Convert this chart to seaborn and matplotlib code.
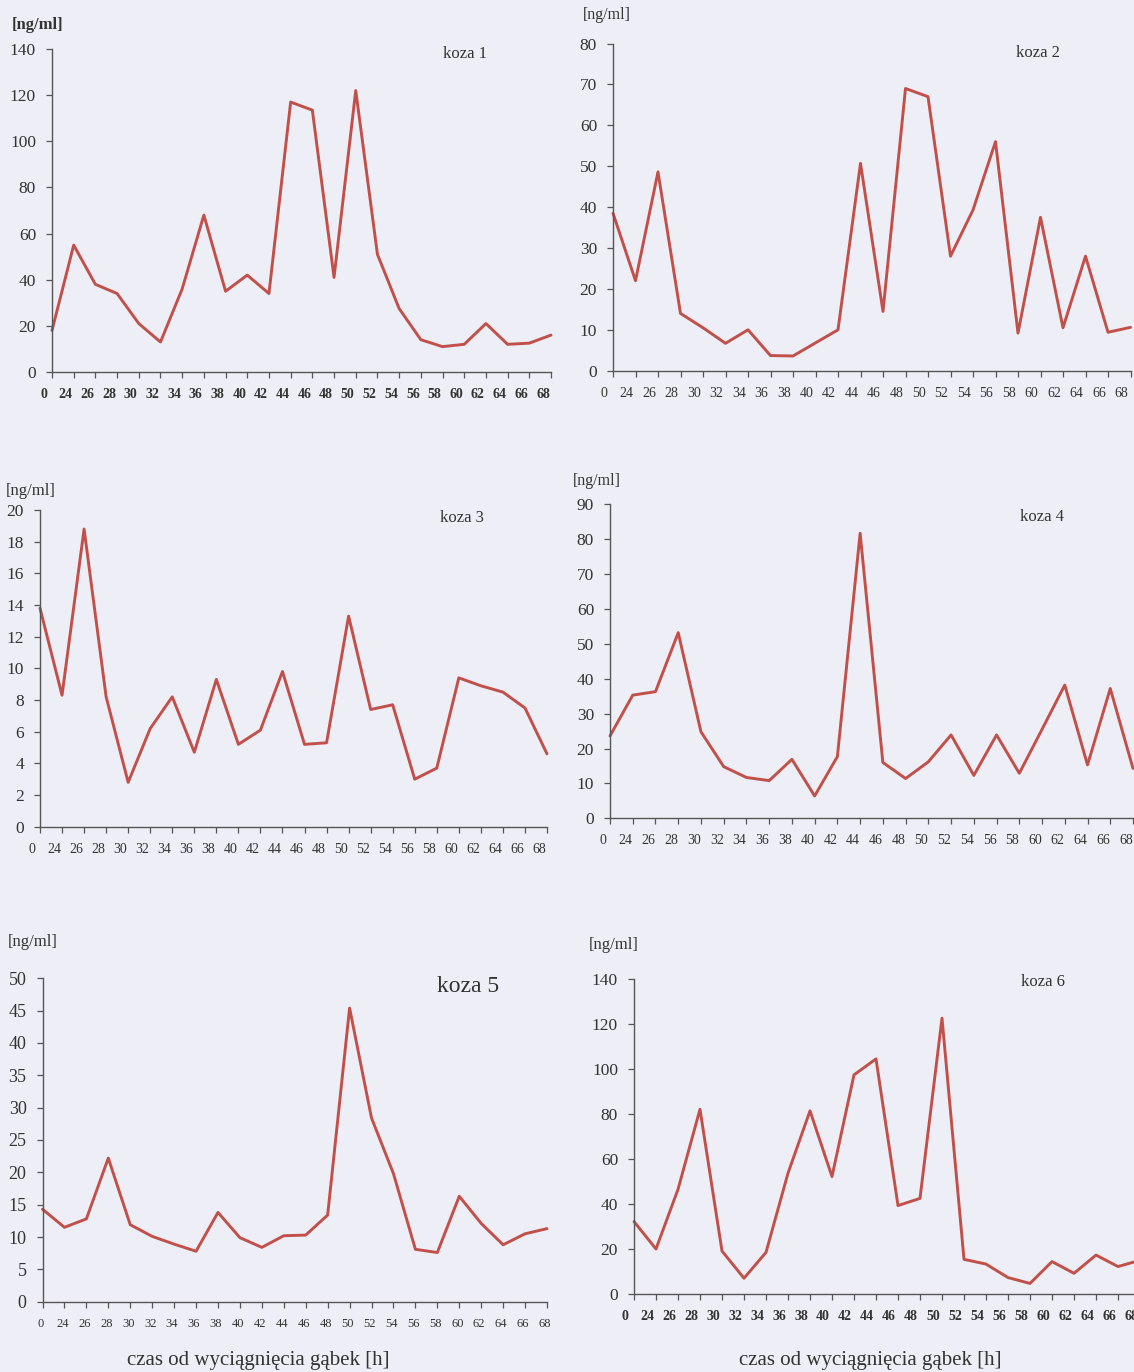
import matplotlib
matplotlib.use("Agg")
import matplotlib.pyplot as plt
import matplotlib.transforms as mtransforms
import pandas as pd
import seaborn as sns

# Sampling times (hours after sponge removal), shown as category labels
hours = ["0", "24", "26", "28", "30", "32", "34", "36", "38", "40", "42", "44",
         "46", "48", "50", "52", "54", "56", "58", "60", "62", "64", "66", "68"]

# Hormone concentration [ng/ml] for each goat
koza1 = [18, 55, 38, 34, 21, 13, 36, 68, 35, 42, 34, 117,
         113.5, 41, 122, 51, 27.5, 14, 11, 12, 21, 12, 12.5, 16]
koza2 = [38.5, 22, 48.6, 14, 10.5, 6.7, 10, 3.7, 3.6, 6.8, 10, 50.7,
         14.5, 69, 67, 28, 39.3, 56, 9.2, 37.5, 10.5, 28, 9.4, 10.6]
koza3 = [13.8, 8.3, 18.8, 8.2, 2.8, 6.2, 8.2, 4.7, 9.3, 5.2, 6.1, 9.8,
         5.2, 5.3, 13.3, 7.4, 7.7, 3.0, 3.7, 9.4, 8.9, 8.5, 7.5, 4.6]
koza4 = [23.6, 35.3, 36.3, 53.2, 24.8, 14.8, 11.7, 10.8, 16.9, 6.4, 17.7, 81.7,
         16, 11.4, 16.2, 23.9, 12.3, 23.9, 12.9, 25.5, 38.2, 15.3, 37.2, 14.3]
koza5 = [14.3, 11.5, 12.8, 22.2, 11.9, 10.1, 8.9, 7.8, 13.8, 9.9, 8.4, 10.2,
         10.3, 13.4, 45.4, 28.4, 19.8, 8.1, 7.6, 16.3, 12.1, 8.8, 10.5, 11.3]
koza6 = [32.2, 20, 46.5, 82.1, 19.1, 7, 18.5, 53.7, 81.4, 52.2, 97.4, 104.5,
         39.3, 42.5, 122.6, 15.4, 13.3, 7.3, 4.7, 14.4, 9.2, 17.3, 12.2, 15]

titles = ["koza 1", "koza 2", "koza 3", "koza 4", "koza 5", "koza 6"]
unit_label = "[ng/ml]"
x_title = "czas od wyciągnięcia gąbek [h]"

PAPER = "#eeeef6"
LINE = "#c2504a"
INK = "#333333"
AXIS = "#555555"

sns.set_theme(style="ticks")
plt.rcParams["font.family"] = ["Liberation Serif", "DejaVu Serif"]

W, H = 1134, 1372
fig = plt.figure(figsize=(W / 100, H / 100), dpi=100, facecolor=PAPER)


def box(left, right, top, bottom):
    """Axes rectangle from pixel edges (origin at the top-left corner)."""
    return [left / W, 1 - bottom / H, (right - left) / W, (bottom - top) / H]


def at(x, y):
    return x / W, 1 - y / H


panels = [
    dict(values=koza1, ymax=140, ystep=20, rect=box(52, 551, 49, 372),
         title_xy=(465, 54), title_size=12, unit_xy=(12, 25), unit_bold=True,
         unit_size=12, xbold=True, xshift=-8, xsize=10, ysize=12.5),
    dict(values=koza2, ymax=80, ystep=10, rect=box(613, 1130.5, 43.5, 370.7),
         title_xy=(1038, 53), title_size=12, unit_xy=(583, 15), unit_bold=False,
         unit_size=11.5, xbold=False, xshift=-9, xsize=10, ysize=12.5),
    dict(values=koza3, ymax=20, ystep=2, rect=box(40, 547, 510, 826.7),
         title_xy=(462, 518), title_size=12, unit_xy=(6, 491), unit_bold=False,
         unit_size=12, xbold=False, xshift=-8, xsize=10, ysize=12.5),
    dict(values=koza4, ymax=90, ystep=10, rect=box(610, 1133, 504.3, 818.3),
         title_xy=(1042, 517), title_size=12, unit_xy=(573, 481), unit_bold=False,
         unit_size=11.5, xbold=False, xshift=-7, xsize=10, ysize=12.5),
    dict(values=koza5, ymax=50, ystep=5, rect=box(42.5, 547, 978.3, 1301.7),
         title_xy=(468, 986), title_size=17, unit_xy=(8, 942), unit_bold=False,
         unit_size=12, xbold=False, xshift=-2, xsize=9, ysize=13),
    dict(values=koza6, ymax=140, ystep=20, rect=box(634, 1140, 979, 1294),
         title_xy=(1043, 982), title_size=12, unit_xy=(589, 945), unit_bold=False,
         unit_size=12, xbold=True, xshift=-9, xsize=10, ysize=12.5),
]

for title, p in zip(titles, panels):
    ax = fig.add_axes(p["rect"])
    ax.set_facecolor("none")
    df = pd.DataFrame({"pos": range(len(hours)), "value": p["values"]})
    sns.lineplot(data=df, x="pos", y="value", ax=ax, color=LINE,
                 linewidth=2.1, clip_on=False)
    ax.set_xlim(0, len(hours) - 1)
    ax.set_ylim(0, p["ymax"])
    ax.set_yticks(range(0, p["ymax"] + 1, p["ystep"]))
    ax.set_xticks(range(len(hours)))
    ax.set_xticklabels(hours, fontweight="bold" if p["xbold"] else "normal")
    ax.set_xlabel("")
    ax.set_ylabel("")
    for side in ("top", "right"):
        ax.spines[side].set_visible(False)
    for side in ("left", "bottom"):
        ax.spines[side].set_color(AXIS)
        ax.spines[side].set_linewidth(1.0)
    ax.tick_params(axis="both", direction="out", length=4, width=0.9,
                   color=AXIS, labelcolor=INK)
    ax.tick_params(axis="y", labelsize=p["ysize"], pad=7.5)
    ax.tick_params(axis="x", labelsize=p["xsize"], pad=7.5)
    shift = mtransforms.ScaledTranslation(p["xshift"] / 100, 0, fig.dpi_scale_trans)
    for lab in ax.get_xticklabels():
        lab.set_transform(lab.get_transform() + shift)

    fig.text(*at(*p["title_xy"]), title, ha="center", va="center",
             fontsize=p["title_size"], color=INK)
    fig.text(*at(*p["unit_xy"]), unit_label, ha="left", va="center",
             fontsize=p["unit_size"], color=INK,
             fontweight="bold" if p["unit_bold"] else "normal")

fig.text(*at(258, 1361), x_title, ha="center", va="center", fontsize=15, color=INK)
fig.text(*at(870, 1361), x_title, ha="center", va="center", fontsize=15, color=INK)

fig.savefig("out.png", dpi=100, facecolor=PAPER)
